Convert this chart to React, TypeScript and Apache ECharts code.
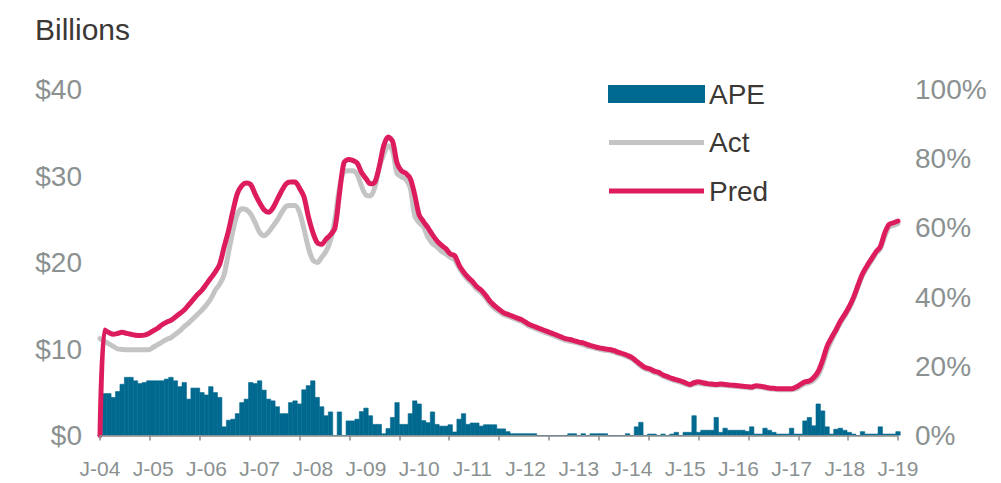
import React, { useEffect, useRef } from "react";
import * as echarts from "echarts";

const MONTH_LETTERS = ["J", "F", "M", "A", "M", "J", "J", "A", "S", "O", "N", "D"];
const START_YEAR = 2004;
const N_MONTHS = 181;
const categories: string[] = [];
for (let i = 0; i < N_MONTHS; i++) {
  const y = START_YEAR + Math.floor(i / 12);
  categories.push(MONTH_LETTERS[i % 12] + "-" + String(y % 100).padStart(2, "0"));
}

// APE, % (right axis)
const apePct = [
  0, 12.2, 12.2, 11.1, 12.8, 14.9, 16.9, 16.9, 15.9, 15.1,
  15.4, 15.9, 15.9, 15.9, 15.9, 16.4, 16.9, 15.9, 14.2, 15.4,
  10.6, 13.8, 13.8, 12.5, 11.8, 14.2, 12.5, 11.1, 2.6, 4.5,
  4.8, 6.4, 9.6, 10.6, 15.4, 15.1, 15.9, 13.2, 10.6, 10.1,
  8.4, 6.4, 6.4, 9.6, 10.1, 9.2, 13.3, 14.5, 15.9, 11.1,
  8.4, 5.8, 6.9, 0, 6.9, 0, 4.3, 4.3, 4.8, 7.0,
  8.0, 5.8, 3.3, 3.3, 0.6, 2.1, 5.3, 9.6, 3.3, 3.3,
  6.4, 10.1, 9.2, 4.4, 3.8, 6.9, 3.3, 2.8, 2.8, 3.2,
  1.1, 4.8, 6.4, 3.3, 3.7, 3.7, 2.8, 3.2, 3.2, 3.2,
  2.0, 2.0, 1.2, 0.6, 0.6, 0.6, 0.6, 0.6, 0.6, 0,
  0, 0, 0, 0, 0, 0, 0.6, 0.6, 0, 0.6,
  0, 0.6, 0.6, 0.6, 0.6, 0, 0, 0, 0, 0.6,
  0, 2.6, 3.9, 0, 0.5, 0.5, 0, 0.5, 0, 0.5,
  1.0, 0, 1.0, 1.0, 5.8, 1.0, 1.6, 1.6, 1.6, 5.3,
  1.0, 2.2, 1.6, 1.6, 1.6, 1.6, 1.3, 2.6, 0.5, 0.5,
  2.2, 1.6, 1.0, 0.5, 0.5, 0.5, 2.2, 0.5, 0.5, 4.3,
  5.3, 2.9, 9.2, 7.2, 2.6, 0.5, 1.9, 2.2, 1.6, 1.0,
  0.5, 0, 1.2, 0.5, 0.5, 0.5, 2.6, 0.5, 0.5, 0.5,
  1.2,
];

// Actual, $ billions (left axis)
const actual = [
  11.2, 10.9, 10.6, 10.3, 10.0, 9.95, 9.9, 9.9, 9.9, 9.9,
  9.9, 9.9, 10.2, 10.5, 10.8, 11.1, 11.3, 11.7, 12.1, 12.6,
  13.0, 13.5, 14.0, 14.5, 15.1, 15.8, 16.8, 17.5, 18.6, 21.2,
  23.7, 25.6, 26.2, 26.1, 25.6, 24.6, 23.5, 23.1, 23.5, 24.2,
  24.9, 25.8, 26.5, 26.6, 26.6, 25.8, 23.9, 21.7, 20.3, 20.0,
  20.6, 21.3, 22.6, 25.0, 28.6, 30.5, 30.6, 30.6, 30.2, 28.8,
  27.8, 27.7, 28.7, 31.0, 32.5, 33.5, 32.9, 30.3, 29.9, 29.6,
  28.6, 25.4, 24.6, 24.1, 22.9, 22.2, 21.8, 21.3, 21.0, 20.6,
  20.3, 19.4, 18.6, 18.0, 17.5, 16.9, 16.5, 15.9, 15.2, 14.7,
  14.3, 14.0, 13.8, 13.6, 13.4, 13.2, 12.9, 12.6, 12.4, 12.2,
  12.0, 11.8, 11.6, 11.4, 11.2, 11.0, 10.9, 10.8, 10.65, 10.5,
  10.3, 10.2, 10.05, 9.95, 9.85, 9.8, 9.65, 9.45, 9.3, 9.1,
  8.85, 8.45, 8.0, 7.7, 7.55, 7.3, 7.15, 6.85, 6.65, 6.45,
  6.3, 6.15, 5.95, 5.8, 5.95, 6.05, 5.95, 5.9, 5.85, 5.8,
  5.85, 5.8, 5.75, 5.7, 5.65, 5.6, 5.55, 5.5, 5.65, 5.6,
  5.5, 5.4, 5.35, 5.3, 5.3, 5.3, 5.3, 5.4, 5.7, 6.0,
  6.1, 6.4, 7.0, 8.2, 9.8, 11.0, 12.0, 13.0, 13.8, 14.7,
  15.8, 17.2, 18.5, 19.4, 20.2, 21.0, 21.6, 23.0, 24.1, 24.3,
  24.5,
];

// Predicted, $ billions (left axis)
const predicted = [
  0, 12.2, 11.9, 11.7, 11.8, 11.95, 11.8, 11.7, 11.6, 11.56,
  11.6, 11.8, 12.1, 12.4, 12.8, 13.1, 13.3, 13.7, 14.1, 14.5,
  15.1, 15.7, 16.3, 16.8, 17.5, 18.2, 18.9, 19.8, 21.8, 23.7,
  26.0, 28.0, 28.9, 29.2, 29.0, 27.9, 26.9, 26.1, 25.8, 26.3,
  27.3, 28.3, 29.1, 29.3, 29.3, 28.6, 27.6, 25.3, 23.5, 22.3,
  22.1, 22.7, 23.2, 24.0, 27.9, 31.5, 31.9, 31.8, 31.5, 30.4,
  29.7, 29.1, 29.3, 31.1, 33.5, 34.5, 34.0, 31.5, 30.6, 30.3,
  29.7, 27.8, 25.5, 24.7, 24.0, 23.2, 22.5, 22.0, 21.6, 21.0,
  20.8, 19.7, 18.9, 18.3, 17.8, 17.2, 16.8, 16.2, 15.5, 15.0,
  14.6, 14.2, 14.0, 13.8, 13.6, 13.4, 13.1, 12.8, 12.6, 12.4,
  12.2, 12.0, 11.8, 11.6, 11.4, 11.2, 11.1, 10.95, 10.8, 10.7,
  10.5, 10.35, 10.2, 10.1, 10.0, 9.95, 9.8, 9.6, 9.45, 9.25,
  9.0, 8.6, 8.2, 7.85, 7.7, 7.45, 7.3, 7.0, 6.8, 6.6,
  6.45, 6.3, 6.1, 5.9, 6.1, 6.2, 6.1, 6.0, 5.95, 5.9,
  5.95, 5.9, 5.85, 5.8, 5.75, 5.7, 5.65, 5.6, 5.75, 5.7,
  5.6, 5.5, 5.45, 5.4, 5.4, 5.4, 5.4, 5.6, 5.9, 6.2,
  6.3, 6.7, 7.4, 8.7, 10.3, 11.3, 12.2, 13.2, 14.0, 14.9,
  16.0, 17.4, 18.7, 19.6, 20.4, 21.2, 21.8, 23.4, 24.4, 24.6,
  24.8,
];

const FONT = "'Liberation Sans', Arial, sans-serif";
const AXIS_GRAY = "#8b9191";
const TEXT_DARK = "#3b3835";
const BAR_BLUE = "#00698f";

export default function App() {
  const ref = useRef<HTMLDivElement>(null);
  useEffect(() => {
    if (!ref.current) return;
    const chart = echarts.init(ref.current, undefined, { renderer: "svg" });
    chart.setOption({
      animation: false,
      backgroundColor: "#ffffff",
      textStyle: { fontFamily: FONT },
      title: {
        text: "Billions",
        left: 30,
        top: 9,
        textStyle: { fontFamily: FONT, fontSize: 30, fontWeight: "normal", color: TEXT_DARK },
      },
      legend: {
        orient: "vertical",
        left: 603,
        top: 75,
        itemWidth: 95,
        itemHeight: 16,
        itemGap: 20.5,
        data: [
          { name: "APE", icon: "rect" },
          { name: "Act", icon: "path://M0 0H95V5H0Z" },
          { name: "Pred", icon: "path://M0 0H95V5H0Z" },
        ],
        textStyle: { fontFamily: FONT, fontSize: 28, color: TEXT_DARK, padding: [0, 0, 0, 0] },
      },
      grid: { left: 100, right: 103, top: 89.5, bottom: 47.5, containLabel: false },
      xAxis: [
        {
          type: "category",
          data: categories,
          boundaryGap: false,
          z: 10,
          axisLine: { show: true, lineStyle: { color: "#8c8c8c", width: 1.5 } },
          axisTick: { show: false },
          axisLabel: {
            interval: 11,
            margin: 22,
            color: AXIS_GRAY,
            fontSize: 21,
            fontFamily: FONT,
          },
          splitLine: { show: false },
        },
        {
          type: "value",
          min: 0,
          max: 180,
          interval: 11.25,
          position: "bottom",
          z: 10,
          axisLine: { show: false },
          axisTick: { show: true, length: 5, lineStyle: { color: "#8c8c8c", width: 1.5 } },
          axisLabel: { show: false },
          splitLine: { show: false },
        },
      ],
      yAxis: [
        {
          type: "value",
          min: 0,
          max: 40,
          interval: 10,
          axisLine: { show: false },
          axisTick: { show: false },
          splitLine: { show: false },
          axisLabel: {
            formatter: "${value}",
            color: AXIS_GRAY,
            fontSize: 28,
            fontFamily: FONT,
            margin: 18,
            verticalAlign: "middle",
            lineHeight: 34,
            padding: [0, 0, 5, 0],
          },
        },
        {
          type: "value",
          min: 0,
          max: 100,
          interval: 20,
          position: "right",
          axisLine: { show: false },
          axisTick: { show: false },
          splitLine: { show: false },
          axisLabel: {
            formatter: "{value}%",
            color: AXIS_GRAY,
            fontSize: 28,
            fontFamily: FONT,
            margin: 17,
            verticalAlign: "middle",
            lineHeight: 34,
            padding: [0, 0, 5, 0],
          },
        },
      ],
      series: [
        {
          name: "APE",
          type: "bar",
          xAxisIndex: 0,
          yAxisIndex: 1,
          data: apePct,
          barWidth: 5,
          itemStyle: { color: BAR_BLUE, borderColor: BAR_BLUE, borderWidth: 0.6 },
          z: 1,
        },
        {
          name: "Act",
          type: "line",
          xAxisIndex: 0,
          yAxisIndex: 0,
          data: actual,
          symbol: "none",
          smooth: 0.3,
          lineStyle: { width: 5, color: "#c4c4c4", cap: "round", join: "round" },
          itemStyle: { color: "#c4c4c4" },
          z: 2,
        },
        {
          name: "Pred",
          type: "line",
          xAxisIndex: 0,
          yAxisIndex: 0,
          data: predicted,
          symbol: "none",
          smooth: 0.3,
          lineStyle: { width: 5, color: "#dc1c5e", cap: "round", join: "round" },
          itemStyle: { color: "#dc1c5e" },
          z: 3,
        },
      ],
    });
    return () => chart.dispose();
  }, []);
  return (
    <div
      ref={ref}
      style={{ position: "fixed", left: 0, top: 0, width: 1001, height: 483 }}
    />
  );
}
